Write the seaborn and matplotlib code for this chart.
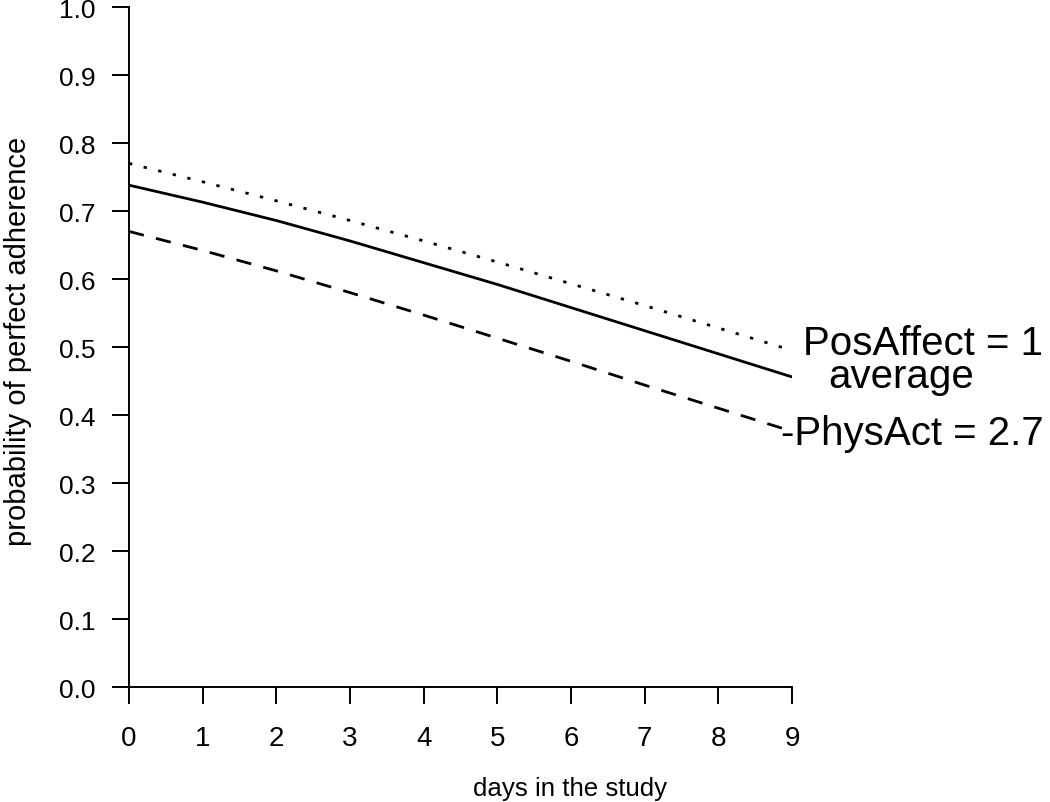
import numpy as np
import pandas as pd
import matplotlib
matplotlib.use("Agg")
import matplotlib.pyplot as plt
import seaborn as sns

# Data
days = [0, 1, 2, 3, 4, 5, 6, 7, 8, 9]
pos_affect = [0.770, 0.743, 0.715, 0.686, 0.656, 0.625, 0.593, 0.561, 0.528, 0.495]
average = [0.738, 0.713, 0.686, 0.656, 0.624, 0.592, 0.558, 0.524, 0.490, 0.456]
phys_act = [0.670, 0.642, 0.612, 0.580, 0.547, 0.513, 0.479, 0.444, 0.410, 0.376]
y_ticks = [0.0, 0.1, 0.2, 0.3, 0.4, 0.5, 0.6, 0.7, 0.8, 0.9, 1.0]

df = pd.DataFrame({
    'day': days * 3,
    'prob': pos_affect + average + phys_act,
    'group': ['PosAffect = 1'] * 10 + ['average'] * 10 + ['-PhysAct = 2.7'] * 10,
})

sns.set_style("ticks")
plt.rcParams['font.family'] = ['Liberation Sans', 'DejaVu Sans']
plt.rcParams['text.color'] = 'black'
plt.rcParams['axes.labelcolor'] = 'black'

fig = plt.figure(figsize=(10.5, 8.03), dpi=100)
ax = fig.add_axes([0.1229, 0.1432, 0.6314, 0.8468])

styles = {
    'PosAffect = 1': (0, (1.2, 4.2)),
    'average': '-',
    '-PhysAct = 2.7': (0, (5.5, 4.5)),
}
for name, ls in styles.items():
    sub = df[df['group'] == name]
    sns.lineplot(data=sub, x='day', y='prob', ax=ax, color='black',
                 linewidth=2.0, linestyle=ls, legend=False)

ax.set_xlim(0, 9)
ax.set_ylim(0, 1.0)
ax.set_xticks(days)
ax.set_yticks(y_ticks)
ax.set_yticklabels([f'{v:.1f}' for v in y_ticks])
ax.tick_params(axis='both', length=12, width=1.4, colors='black')
ax.tick_params(axis='y', labelsize=19, pad=12)
ax.tick_params(axis='x', labelsize=20, pad=15)
for side in ['left', 'bottom']:
    ax.spines[side].set_linewidth(1.4)
    ax.spines[side].set_color('black')
ax.spines['top'].set_visible(False)
ax.spines['right'].set_visible(False)

ax.set_xlabel('days in the study', fontsize=18.6)
ax.set_ylabel('probability of perfect adherence', fontsize=21)
ax.xaxis.set_label_coords(0.665, -0.131)
ax.yaxis.set_label_coords(-0.146, 0.51)

# line labels at the right end
ax.text(9.15, 0.4897, 'PosAffect = 1', fontsize=29, va='baseline', ha='left', clip_on=False)
ax.text(10.48, 0.4412, 'average', fontsize=29, va='baseline', ha='center', clip_on=False)
ax.text(8.85, 0.3574, '-PhysAct = 2.7', fontsize=29, va='baseline', ha='left', clip_on=False)

fig.savefig('out.png', dpi=100)
